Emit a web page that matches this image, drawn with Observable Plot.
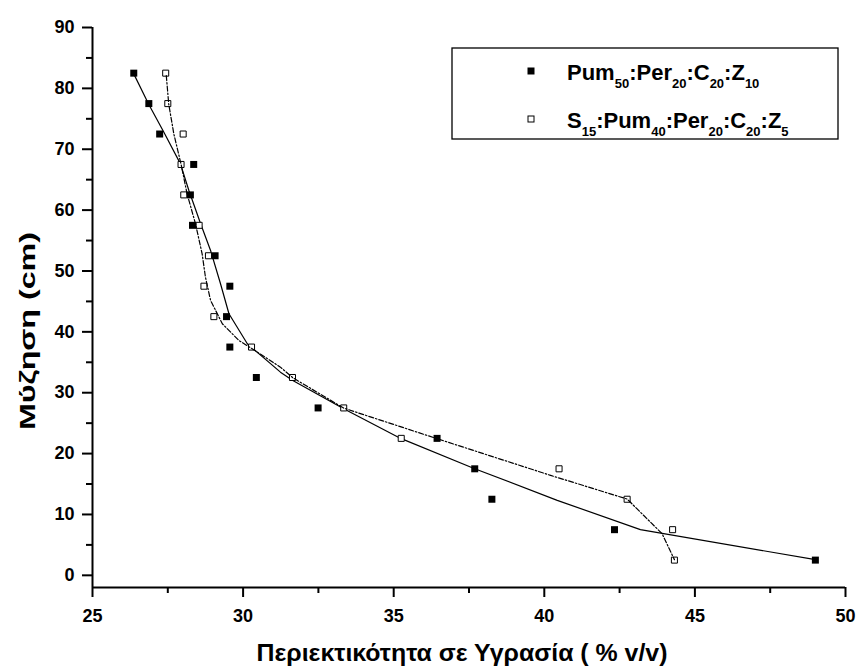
<!DOCTYPE html>
<html>
<head>
<meta charset="utf-8">
<script src="https://cdn.jsdelivr.net/npm/d3@7"></script>
<script src="https://cdn.jsdelivr.net/npm/@observablehq/plot@0.6"></script>
<style>
  html, body { margin: 0; padding: 0; background: #fff; }
  #chart { width: 858px; height: 670px; }
</style>
</head>
<body>
<div id="chart"></div>
<script>
// Depth of each measurement (cm)
const depth = [82.5, 77.5, 72.5, 67.5, 62.5, 57.5, 52.5, 47.5, 42.5, 37.5, 32.5, 27.5, 22.5, 17.5, 12.5, 7.5, 2.5];

// Moisture content (% v/v) for each mix
const moistureA = [26.37, 26.87, 27.23, 28.36, 28.25, 28.32, 29.07, 29.56, 29.45, 29.56, 30.44, 32.49, 36.44, 37.69, 38.26, 42.33, 49.0];
const moistureB = [27.43, 27.50, 28.01, 27.94, 28.03, 28.54, 28.85, 28.70, 29.03, 30.28, 31.64, 33.34, 35.25, 40.49, 42.75, 44.26, 44.32];

// Smoothed trend curves
const trendA_x = [26.37, 26.87, 27.37, 27.92, 28.20, 28.59, 28.92, 29.25, 29.53, 30.14, 31.24, 31.65, 33.34, 35.25, 37.69, 40.43, 43.19, 49.00];
const trendA_y = [82.38, 77.34, 72.79, 67.60, 63.22, 57.75, 53.37, 47.90, 42.97, 38.05, 33.38, 32.02, 27.37, 22.45, 17.52, 12.32, 7.50, 2.58];
const trendB_x = [27.45, 27.53, 27.70, 27.95, 28.14, 28.42, 28.64, 28.75, 28.92, 29.31, 29.86, 30.30, 31.24, 31.65, 33.34, 36.44, 40.21, 42.75, 43.91, 44.32];
const trendB_y = [82.10, 77.45, 72.53, 67.32, 62.67, 57.75, 52.82, 48.98, 45.16, 41.33, 38.59, 37.22, 34.20, 32.46, 27.47, 22.45, 16.42, 12.53, 6.85, 2.58];

// Axis ticks
const xTicks = [25, 30, 35, 40, 45, 50];
const xMinor = [27.5, 32.5, 37.5, 42.5, 47.5];
const yTicks = [0, 10, 20, 30, 40, 50, 60, 70, 80, 90];
const yMinor = [5, 15, 25, 35, 45, 55, 65, 75, 85];

const xTitle = "Περιεκτικότητα σε Υγρασία ( % v/v)";
const yTitle = "Μύζηση (cm)";

const seriesA = depth.map((d, i) => ({x: moistureA[i], y: d}));
const seriesB = depth.map((d, i) => ({x: moistureB[i], y: d}));
const trendA = trendA_x.map((x, i) => ({x, y: trendA_y[i]}));
const trendB = trendB_x.map((x, i) => ({x, y: trendB_y[i]}));

const font = "'Liberation Sans', Arial, Helvetica, sans-serif";

const chart = Plot.plot({
  width: 858,
  height: 670,
  marginLeft: 92,
  marginRight: 13,
  marginTop: 27,
  marginBottom: 83,
  x: {domain: [25, 50]},
  y: {domain: [-2, 90]},
  style: {fontFamily: font, fontSize: "18px", fontWeight: "bold", background: "white", color: "black"},
  marks: [
    Plot.axisX({ticks: xTicks, tickSize: 10, tickPadding: 12, strokeWidth: 2, label: null,
      fontSize: 18, fontWeight: "bold", tickFormat: d => String(d)}),
    Plot.axisX({ticks: xMinor, tickSize: 6, strokeWidth: 2, label: null, tickFormat: () => ""}),
    Plot.axisY({ticks: yTicks, tickSize: 10, tickPadding: 8, strokeWidth: 2, label: null,
      fontSize: 18, fontWeight: "bold", tickFormat: d => String(d)}),
    Plot.axisY({ticks: yMinor, tickSize: 6, strokeWidth: 2, label: null, tickFormat: () => ""}),
    Plot.ruleX([25], {y1: -2, y2: 90, stroke: "black", strokeWidth: 2}),
    Plot.ruleY([-2], {x1: 25, x2: 50, stroke: "black", strokeWidth: 2}),
    Plot.dot(seriesA, {x: "x", y: "y", symbol: "square", r: 3.95, fill: "black", stroke: "none"}),
    Plot.line(trendA, {x: "x", y: "y", stroke: "black", strokeWidth: 1.2}),
    Plot.dot(seriesB, {x: "x", y: "y", symbol: "square", r: 3.4, fill: "white", stroke: "black", strokeWidth: 1}),
    Plot.line(trendB, {x: "x", y: "y", stroke: "black", strokeWidth: 1.2,
      strokeDasharray: "5,2,1.5,2"})
  ]
});

document.getElementById("chart").appendChild(chart);

const svg = d3.select(chart);

// Axis titles
svg.append("text")
  .attr("x", 462).attr("y", 661)
  .attr("text-anchor", "middle")
  .attr("font-family", font).attr("font-weight", "bold").attr("font-size", 24)
  .attr("textLength", 411).attr("lengthAdjust", "spacingAndGlyphs")
  .attr("fill", "black")
  .text(xTitle);

svg.append("text")
  .attr("transform", "translate(35,331) rotate(-90)")
  .attr("text-anchor", "middle")
  .attr("font-family", font).attr("font-weight", "bold").attr("font-size", 22)
  .attr("textLength", 198).attr("lengthAdjust", "spacingAndGlyphs")
  .attr("fill", "black")
  .text(yTitle);

// Legend
const legend = svg.append("g")
  .attr("font-family", font).attr("font-weight", "bold")
  .attr("fill", "black").attr("text-anchor", "start");
legend.append("rect")
  .attr("x", 452).attr("y", 48).attr("width", 386).attr("height", 91)
  .attr("fill", "white").attr("stroke", "black").attr("stroke-width", 1.3);

const legendItems = [
  {parts: [["Pum", false], ["50", true], [":Per", false], ["20", true], [":C", false], ["20", true], [":Z", false], ["10", true]], filled: true},
  {parts: [["S", false], ["15", true], [":Pum", false], ["40", true], [":Per", false], ["20", true], [":C", false], ["20", true], [":Z", false], ["5", true]], filled: false}
];

legendItems.forEach((item, i) => {
  const yBase = 80 + i * 48;
  const side = item.filled ? 7 : 6;
  legend.append("rect")
    .attr("x", 531 - side / 2).attr("y", yBase - 9 - side / 2)
    .attr("width", side).attr("height", side)
    .attr("fill", item.filled ? "black" : "white")
    .attr("stroke", item.filled ? "none" : "black").attr("stroke-width", 1);
  const t = legend.append("text")
    .attr("x", 567).attr("y", yBase)
    .attr("text-anchor", "start").attr("font-size", 22);
  let shifted = false;
  item.parts.forEach(([s, sub]) => {
    const span = t.append("tspan").text(s);
    if (sub && !shifted) { span.attr("dy", 8).attr("font-size", 13); shifted = true; }
    else if (sub) { span.attr("font-size", 13); }
    else if (shifted) { span.attr("dy", -8); shifted = false; }
  });
});
</script>
</body>
</html>
